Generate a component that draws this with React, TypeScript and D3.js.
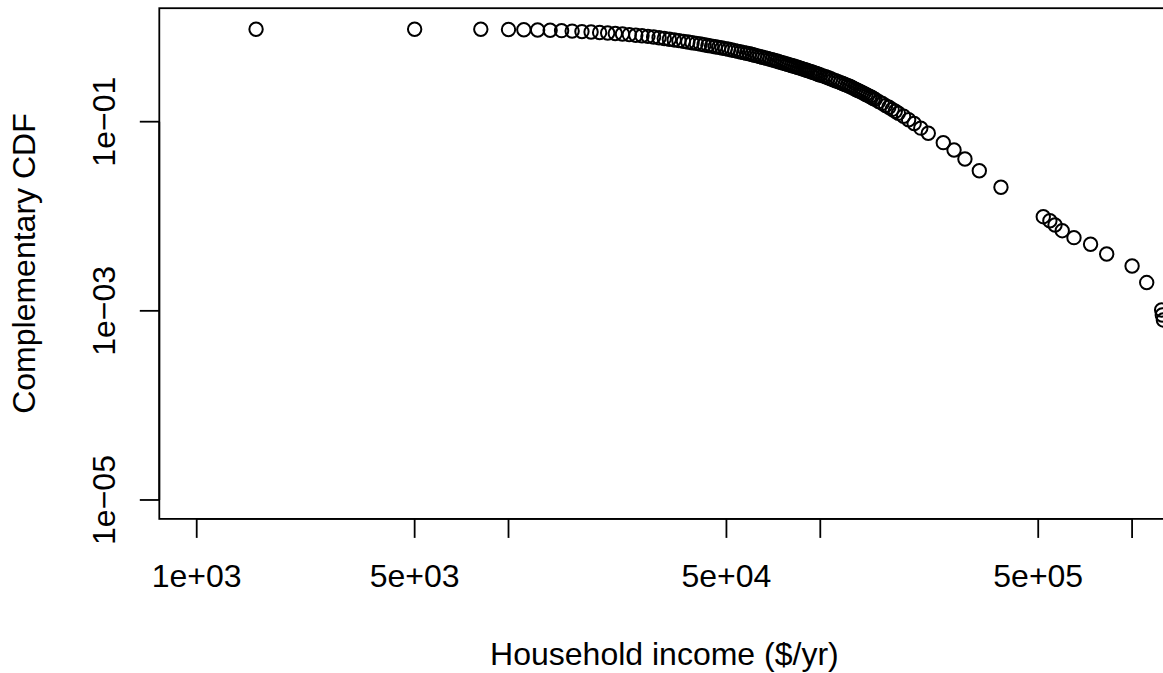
import React, { useRef, useEffect } from "react";
import * as d3 from "d3";

// household income ($/yr) at each plotted point
const incomes = [
  1550, 5000, 8150,
  10000, 11200, 12400, 13600, 14800, 16000, 17200, 18400, 19600, 20800,
  22000, 23200, 24400, 25600, 26800, 28000, 29200, 30400, 31600, 32800,
  34000, 35200, 36400, 37600, 38800, 40000, 41200, 42400, 43600, 44800,
  46000, 47200, 48400, 49600, 50800, 52000, 53200, 54400, 55600, 56800,
  58000, 59200, 60400, 61600, 62800, 64000, 65200, 66400, 67600, 68800,
  70000, 71200, 72400, 73600, 74800, 76000, 77200, 78400, 79600, 80800,
  82000, 83200, 84400, 85600, 86800, 88000, 89200, 90400, 91600, 92800,
  94000, 95200, 96400, 97600, 98800, 100000,
  102000, 104000, 106000, 108000, 110000, 112000, 114000, 116000, 118000,
  120000, 122000, 124000, 126000, 128000, 130000, 132000, 134000, 136000,
  138000, 140000, 142000, 144000, 146000, 148000, 150000,
  154000, 158000, 162000, 166000, 170000, 174000, 178000,
  185000, 192000, 200000, 210000, 222000,
  248000, 268500, 291000, 323600, 379700,
  519000, 545000, 566000, 597000, 651000, 736000, 829000, 1000000, 1114000,
  1244000, 1250000, 1260000,
];

// complementary CDF, same order as incomes
const ccdf = [
  0.95, 0.95, 0.948,
  0.943, 0.937, 0.932, 0.927, 0.917, 0.908, 0.897, 0.887, 0.877, 0.866,
  0.855, 0.845, 0.833, 0.821, 0.81, 0.799, 0.786, 0.771, 0.758, 0.745,
  0.732, 0.719, 0.707, 0.695, 0.684, 0.673, 0.662, 0.651, 0.64, 0.63,
  0.62, 0.611, 0.602, 0.593, 0.583, 0.573, 0.564, 0.554, 0.546, 0.538,
  0.529, 0.522, 0.513, 0.504, 0.496, 0.488, 0.48, 0.473, 0.466, 0.459,
  0.452, 0.445, 0.438, 0.431, 0.424, 0.418, 0.411, 0.405, 0.399, 0.393,
  0.388, 0.382, 0.377, 0.371, 0.366, 0.36, 0.355, 0.35, 0.345, 0.34,
  0.335, 0.33, 0.326, 0.321, 0.316, 0.312,
  0.305, 0.299, 0.291, 0.284, 0.277, 0.271, 0.265, 0.259, 0.253,
  0.247, 0.242, 0.237, 0.231, 0.225, 0.219, 0.214, 0.209, 0.204,
  0.199, 0.194, 0.19, 0.185, 0.181, 0.176, 0.172,
  0.163, 0.156, 0.148, 0.142, 0.135, 0.129, 0.123,
  0.114, 0.105, 0.0957, 0.0854, 0.0754,
  0.06, 0.0502, 0.0403, 0.0303, 0.0203,
  0.0099, 0.00898, 0.00809, 0.00704, 0.00594, 0.00506, 0.00399, 0.00298, 0.00199,
  0.00102, 0.000905, 0.000801,
];

const xTicks = [1e3, 5e3, 1e4, 5e4, 1e5, 5e5, 1e6];
const xTickLabels = ["1e+03", "5e+03", "", "5e+04", "", "5e+05", ""];
const yTicks = [1e-1, 1e-3, 1e-5];
const yTickLabels = ["1e\u221201", "1e\u221203", "1e\u221205"];

const App = () => {
  const chartRef = useRef<HTMLDivElement>(null);

  useEffect(() => {
    const width = 1163;
    const height = 673;
    const plotLeft = 159.3;
    const plotRight = 1169.5;
    const plotTop = 8.2;
    const plotBottom = 518.9;
    const font = "'Liberation Sans', Arial, Helvetica, sans-serif";
    const fontSize = 32;

    const x = d3.scaleLog()
      .domain([10 ** 2.88, 10 ** 6.12])
      .range([plotLeft, plotRight]);

    const y = d3.scaleLog()
      .domain([10 ** -5.2, 10 ** 0.2])
      .range([plotBottom, plotTop]);

    const data = d3.zip(incomes, ccdf);

    const svg = d3.create("svg")
      .attr("width", width)
      .attr("height", height)
      .attr("viewBox", [0, 0, width, height])
      .style("position", "fixed")
      .style("left", "0px")
      .style("top", "0px")
      .style("background", "#fff")
      .style("font-family", font);

    svg.append("defs")
      .append("clipPath")
      .attr("id", "plot-clip")
      .append("rect")
      .attr("x", plotLeft)
      .attr("y", plotTop)
      .attr("width", plotRight - plotLeft)
      .attr("height", plotBottom - plotTop);

    svg.append("g")
      .attr("clip-path", "url(#plot-clip)")
      .selectAll("circle")
      .data(data)
      .join("circle")
      .attr("cx", d => x(d[0]))
      .attr("cy", d => y(d[1]))
      .attr("r", 6.7)
      .attr("fill", "none")
      .attr("stroke", "#000")
      .attr("stroke-width", 2);

    // box
    svg.append("rect")
      .attr("x", plotLeft)
      .attr("y", plotTop)
      .attr("width", plotRight - plotLeft)
      .attr("height", plotBottom - plotTop)
      .attr("fill", "none")
      .attr("stroke", "#000")
      .attr("stroke-width", 1.8);

    // x axis
    const xAxis = svg.append("g");
    xAxis.append("line")
      .attr("x1", x(xTicks[0]))
      .attr("x2", x(xTicks[xTicks.length - 1]))
      .attr("y1", plotBottom)
      .attr("y2", plotBottom)
      .attr("stroke", "#000")
      .attr("stroke-width", 1.8);
    xAxis.selectAll("line.tick")
      .data(xTicks)
      .join("line")
      .attr("class", "tick")
      .attr("x1", d => x(d))
      .attr("x2", d => x(d))
      .attr("y1", plotBottom)
      .attr("y2", plotBottom + 19)
      .attr("stroke", "#000")
      .attr("stroke-width", 1.8);
    xAxis.selectAll("text")
      .data(xTicks)
      .join("text")
      .attr("x", d => x(d))
      .attr("y", 587)
      .attr("text-anchor", "middle")
      .attr("font-size", fontSize)
      .text((d, i) => xTickLabels[i]);

    // y axis
    const yAxis = svg.append("g");
    yAxis.append("line")
      .attr("x1", plotLeft)
      .attr("x2", plotLeft)
      .attr("y1", y(yTicks[0]))
      .attr("y2", y(yTicks[yTicks.length - 1]))
      .attr("stroke", "#000")
      .attr("stroke-width", 1.8);
    yAxis.selectAll("line.tick")
      .data(yTicks)
      .join("line")
      .attr("class", "tick")
      .attr("x1", plotLeft)
      .attr("x2", plotLeft - 19.5)
      .attr("y1", d => y(d))
      .attr("y2", d => y(d))
      .attr("stroke", "#000")
      .attr("stroke-width", 1.8);
    yAxis.selectAll("text")
      .data(yTicks)
      .join("text")
      .attr("transform", d => `translate(115,${y(d)}) rotate(-90)`)
      .attr("text-anchor", "middle")
      .attr("font-size", fontSize)
      .text((d, i) => yTickLabels[i]);

    // axis titles
    svg.append("text")
      .attr("x", (plotLeft + plotRight) / 2)
      .attr("y", 665)
      .attr("text-anchor", "middle")
      .attr("font-size", fontSize)
      .text("Household income ($/yr)");

    svg.append("text")
      .attr("transform", `translate(35,${(plotTop + plotBottom) / 2}) rotate(-90)`)
      .attr("text-anchor", "middle")
      .attr("font-size", fontSize)
      .text("Complementary CDF");

    chartRef.current!.innerHTML = "";
    chartRef.current!.appendChild(svg.node()!);
  }, []);

  return <div ref={chartRef} />;
};

export default App;
